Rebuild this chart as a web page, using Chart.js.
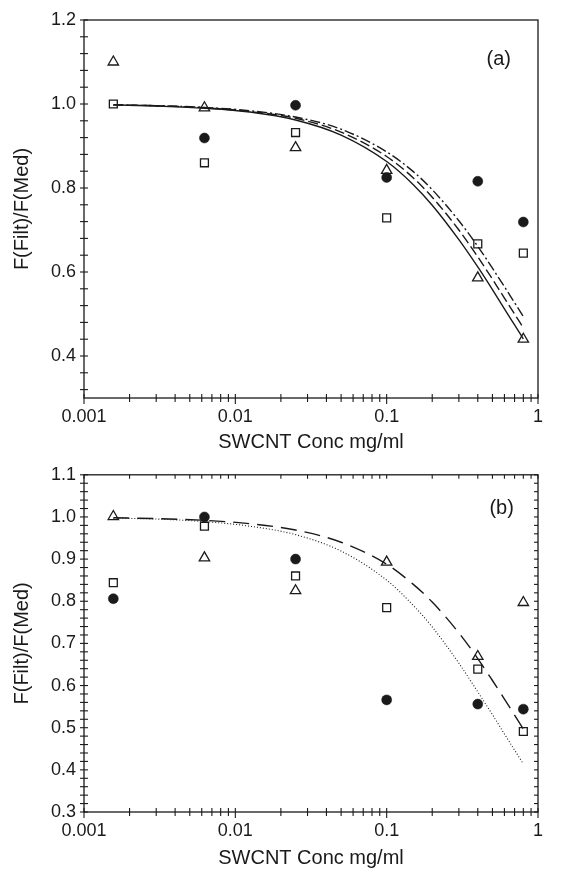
<!DOCTYPE html>
<html><head><meta charset="utf-8">
<script src="https://cdn.jsdelivr.net/npm/chart.js@4.4.1/dist/chart.umd.min.js"></script>
<style>
html,body{margin:0;padding:0;background:#fff;}
#w1{position:absolute;left:0;top:0;width:570px;height:456px;}
#w2{position:absolute;left:0;top:456px;width:570px;height:416px;}
</style></head><body>
<div id="w1"><canvas id="c1"></canvas></div>
<div id="w2"><canvas id="c2"></canvas></div>
<script>
// ---- data ----
const conc = [0.0015625, 0.00625, 0.025, 0.1, 0.4, 0.8];
// panel (a)
const a_circle   = [null, 0.919, 0.997, 0.825, 0.816, 0.719];
const a_square   = [1.000, 0.860, 0.932, 0.729, 0.667, 0.645];
const a_triangle = [1.100, 0.991, 0.896, 0.842, 0.586, 0.440];
// panel (b)
const b_circle   = [0.806, 1.000, 0.900, 0.566, 0.556, 0.544];
const b_square   = [0.844, 0.978, 0.860, 0.785, 0.639, 0.491];
const b_triangle = [1.001, 0.903, 0.825, 0.893, 0.669, 0.797];
// fitted curves
const fitX = [0.0015625, 0.003, 0.00625, 0.0125, 0.025, 0.05, 0.1, 0.15, 0.2, 0.3, 0.4, 0.5, 0.6, 0.7, 0.8];
const a_fitSolid   = [0.998, 0.995, 0.990, 0.981, 0.962, 0.926, 0.863, 0.808, 0.759, 0.677, 0.612, 0.558, 0.512, 0.474, 0.441];
const a_fitDash    = [0.998, 0.996, 0.991, 0.982, 0.966, 0.933, 0.875, 0.824, 0.778, 0.700, 0.636, 0.583, 0.538, 0.500, 0.467];
const a_fitDashDot = [0.998, 0.996, 0.992, 0.984, 0.969, 0.940, 0.886, 0.839, 0.796, 0.722, 0.661, 0.609, 0.565, 0.527, 0.494];
const b_fitDash    = [0.998, 0.996, 0.992, 0.984, 0.969, 0.940, 0.888, 0.840, 0.798, 0.725, 0.664, 0.612, 0.568, 0.530, 0.497];
const b_fitDot     = [0.997, 0.995, 0.989, 0.978, 0.958, 0.919, 0.850, 0.790, 0.739, 0.653, 0.585, 0.531, 0.485, 0.447, 0.414];
// axes
const xTicks = [0.001, 0.01, 0.1, 1];
const a_yTicks = [0.4, 0.6, 0.8, 1.0, 1.2];
const b_yTicks = [0.3, 0.4, 0.5, 0.6, 0.7, 0.8, 0.9, 1.0, 1.1];
const xTitle = 'SWCNT Conc mg/ml';
const yTitle = 'F(Filt)/F(Med)';

const FONT = '"Liberation Sans", Arial, sans-serif';
const INK = '#1a1a1a';

function pts(xs, ys){ return xs.map((x,i)=>({x:x, y:ys[i]})).filter(p=>p.y!==null); }

function markers(ys, kind){
  const base = {type:'scatter', data: pts(conc, ys), showLine:false, borderColor:INK, borderWidth:1.3, order:0};
  if(kind==='circle') return Object.assign(base,{pointStyle:'circle', pointRadius:5, backgroundColor:INK, borderWidth:0.5});
  if(kind==='square') return Object.assign(base,{pointStyle:'rect', pointRadius:5.6, backgroundColor:'rgba(255,255,255,0)'});
  return Object.assign(base,{pointStyle:'triangle', pointRadius:6, backgroundColor:'rgba(255,255,255,0)'});
}
function curve(ys, dash, w){
  return {type:'line', data: pts(fitX, ys), showLine:true, pointRadius:0, borderColor:INK, borderWidth:w||1.4,
          borderDash:dash, fill:false, tension:0.4, cubicInterpolationMode:'monotone', order:1};
}

const deco = {
  id:'deco',
  afterDraw(chart, args, o){
    const ctx = chart.ctx, a = chart.chartArea, x = chart.scales.x, y = chart.scales.y;
    ctx.save();
    ctx.strokeStyle = INK; ctx.lineWidth = 1.3; ctx.setLineDash([]);
    ctx.strokeRect(a.left, a.top, a.right-a.left, a.bottom-a.top);
    ctx.lineWidth = 1.1;
    const L = (x1,y1,x2,y2)=>{ctx.beginPath();ctx.moveTo(x1,y1);ctx.lineTo(x2,y2);ctx.stroke();};
    for(let e=-3;e<=0;e++){
      for(let m=1;m<=9;m++){
        const v = m*Math.pow(10,e); if(v>1.0000001) break;
        const px = x.getPixelForValue(v);
        const major = (m===1);
        L(px, a.bottom-4, px, a.bottom+(major?6:4));
        if(o.box) L(px, a.top, px, a.top+4);
      }
    }
    const n = Math.round((o.yMax-o.yMin)/o.yStep);
    for(let i=0;i<=n;i++){
      const v = o.yMin + i*o.yStep;
      const py = y.getPixelForValue(v);
      L(a.left-4, py, a.left+4, py);
      if(o.box) L(a.right-4, py, a.right, py);
    }
    ctx.fillStyle = INK; ctx.font = '20px '+FONT; ctx.textAlign='center'; ctx.textBaseline='middle';
    ctx.fillText(o.tag, x.getPixelForValue(o.tagX), y.getPixelForValue(o.tagY));
    ctx.restore();
  }
};

function makeChart(id, datasets, yMin, yMax, yTicks, decoOpts, pad, xH){
  return new Chart(document.getElementById(id), {
    type:'scatter',
    data:{datasets:datasets},
    options:{
      responsive:true, maintainAspectRatio:false, animation:false,
      layout:{padding:pad},
      plugins:{legend:{display:false}, tooltip:{enabled:false}, deco:decoOpts},
      scales:{
        x:{type:'logarithmic', min:0.001, max:1,
           afterBuildTicks:(s)=>{s.ticks = xTicks.map(v=>({value:v}));},
           afterFit:(s)=>{s.height = xH;},
           grid:{display:false, drawTicks:false}, border:{display:false},
           ticks:{autoSkip:false, maxRotation:0, padding:8, color:INK, font:{family:FONT, size:18},
                  callback:(v)=>String(v)},
           title:{display:true, text:xTitle, color:INK, font:{family:FONT, size:20}, padding:{top:5, bottom:2}}},
        y:{min:yMin, max:yMax,
           afterBuildTicks:(s)=>{s.ticks = yTicks.map(v=>({value:v}));},
           afterFit:(s)=>{s.width = 84;},
           grid:{display:false, drawTicks:false}, border:{display:false},
           ticks:{padding:8, color:INK, font:{family:FONT, size:18}, callback:(v)=>Number(v).toFixed(1)},
           title:{display:true, text:yTitle, color:INK, font:{family:FONT, size:20}, padding:{top:10,bottom:4}}}
      }
    },
    plugins:[deco]
  });
}

makeChart('c1', [
  markers(a_circle,'circle'), markers(a_square,'square'), markers(a_triangle,'triangle'),
  curve(a_fitSolid, []), curve(a_fitDash, [10,4]), curve(a_fitDashDot, [10,3,2,3])
], 0.3, 1.2, a_yTicks,
  {yMin:0.32, yMax:1.2, yStep:0.04, box:false, tag:'(a)', tagX:0.55, tagY:1.105},
  {top:20, right:32, left:0, bottom:0}, 58);

makeChart('c2', [
  markers(b_circle,'circle'), markers(b_square,'square'), markers(b_triangle,'triangle'),
  curve(b_fitDash, [16,8]), curve(b_fitDot, [1,2], 1.1)
], 0.3, 1.1, b_yTicks,
  {yMin:0.3, yMax:1.1, yStep:0.02, box:true, tag:'(b)', tagX:0.575, tagY:1.02},
  {top:18, right:32, left:0, bottom:0}, 60);
</script>
</body></html>
